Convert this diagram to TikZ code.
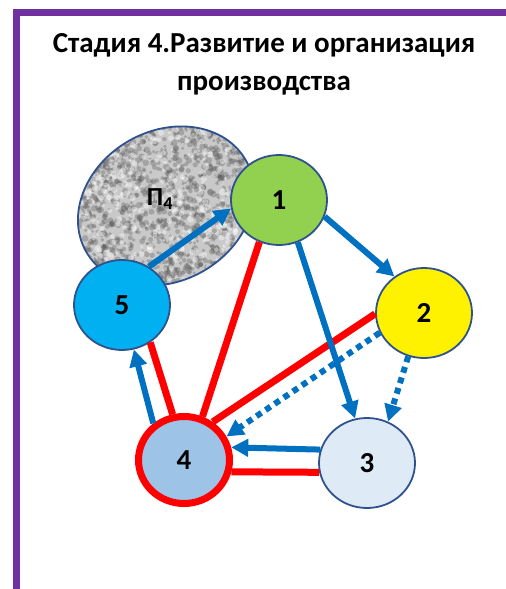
\documentclass[tikz,border=0pt]{standalone}
\usepackage{fontspec}
\setmainfont{Carlito}
\usetikzlibrary{arrows.meta,shapes.geometric}

\definecolor{frame}{HTML}{7030A0}
\definecolor{rim}{HTML}{2F528F}
\definecolor{flow}{HTML}{0070C0}
\definecolor{leaf}{HTML}{92D050}
\definecolor{sky}{HTML}{00B0F0}
\definecolor{pale}{HTML}{DEEBF7}
\definecolor{steel}{HTML}{9DC3E6}

\tikzset{
  stage/.style={ellipse,draw=rim,line width=1.8pt,minimum width=96pt,
    minimum height=90pt,inner sep=0pt,font=\bfseries\fontsize{29}{29}\selectfont},
}

\begin{document}
\begin{tikzpicture}[x=1pt,y=-1pt]
    \useasboundingbox (0,0) rectangle (506,589);
    \draw[frame,line width=7pt] (16,589) -- (16,12) -- (506,12);

    \node[font=\bfseries\fontsize{29}{38}\selectfont,align=center] (title) at (264,64)
      {Стадия 4.Развитие и организация\\производства};

    % grainy ellipse behind 1 and 5
    \begin{scope}
      \clip[rotate around={30:(166,206)}] (166,206) ellipse (92 and 75);
      \fill[gray!42] (60,110) rectangle (270,300);
      \pgfmathsetseed{17}
      \foreach \k in {1,...,1600}
        \fill[black!65,opacity=.33] ({66+198*rnd},{114+182*rnd}) circle ({1.4+2*rnd});
      \foreach \k in {1,...,600}
        \fill[white,opacity=.4] ({66+198*rnd},{114+182*rnd}) circle ({1.4+2*rnd});
    \end{scope}
    \draw[rim,line width=1.8pt,rotate around={30:(166,206)}] (166,206) ellipse (92 and 75);
    \node[font=\bfseries\fontsize{26}{26}\selectfont] (p4) at (160,199) {П\textsubscript{4}};

    \begin{scope}[every node/.style={stage}]
      \node[fill=leaf] (n1) at (279,200) {1};
      \node[fill=yellow] (n2) at (424,313) {2};
      \node[fill=pale] (n3) at (367,463) {3};
      \node[fill=steel,draw=red,line width=7pt,minimum width=91pt,minimum height=87pt] (n4) at (184,460) {4};
      \node[fill=sky] (n5) at (122,305) {5};
    \end{scope}

    \begin{scope}[every edge/.style={draw=red,line width=7pt}]
      \path (n1.-115) edge (n4.67);
      \path (n2.181) edge (n4.53);
      \path (n3.191) edge (n4.-14);
      \path (n5.-53) edge (n4.104);
    \end{scope}

    \begin{scope}[>={Triangle[length=17pt,width=17pt]},
        every edge/.style={draw=flow,line width=6pt}]
      \path [->] (n5.55) edge (n1.190);
      \path [->] (n1.-20) edge (n2.129);
      \path [->] (n1.-66) edge (n3.105);
      \path [->] (n3.164) edge (n4.15);
      \path [->] (n4.130) edge (n5.-75);
      \path [->] (n2.-110) edge[dash pattern=on 6pt off 5pt] (n3.63);
      \path [->] (n2.204) edge[dash pattern=on 6pt off 5pt] (n4.29);
    \end{scope}
\end{tikzpicture}
\end{document}
